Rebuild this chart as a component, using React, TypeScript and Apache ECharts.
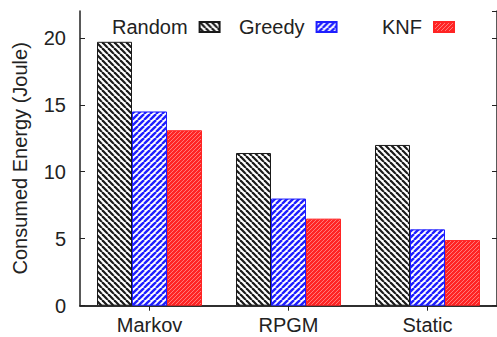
import React, { useEffect, useRef } from "react";
import * as echarts from "echarts";

const categories = ["Markov", "RPGM", "Static"];
const seriesNames = ["Random", "Greedy", "KNF"];
const randomValues = [19.7, 11.4, 12.0];
const greedyValues = [14.5, 8.0, 5.7];
const knfValues = [13.1, 6.5, 4.9];
const yTicks = [0, 5, 10, 15, 20];

const FONT = "Liberation Sans, Arial, Helvetica, sans-serif";
const TEXT = "#222";

function stripes(
  size: number,
  bg: string,
  fg: string,
  lw: number,
  dir: "back" | "fwd"
): any {
  const c = document.createElement("canvas");
  c.width = size;
  c.height = size;
  const ctx = c.getContext("2d")!;
  ctx.fillStyle = bg;
  ctx.fillRect(0, 0, size, size);
  ctx.strokeStyle = fg;
  ctx.lineWidth = lw;
  for (let k = -1; k <= 1; k++) {
    ctx.beginPath();
    if (dir === "back") {
      ctx.moveTo(k * size, 0);
      ctx.lineTo(k * size + size, size);
    } else {
      ctx.moveTo(k * size, size);
      ctx.lineTo(k * size + size, 0);
    }
    ctx.stroke();
  }
  return { image: c, repeat: "repeat" };
}

export default function App() {
  const ref = useRef<HTMLDivElement>(null);
  useEffect(() => {
    if (!ref.current) return;
    const chart = echarts.init(ref.current, undefined, { renderer: "svg" });
    const blackPat = stripes(6, "#ffffff", "#1a1a1a", 2.2, "back");
    const bluePat = stripes(6, "#ffffff", "#1e1eff", 2.4, "fwd");
    const redPat = stripes(4, "#ff2424", "#ff7a7a", 1, "fwd");
    const patterns = [blackPat, bluePat, redPat];
    const borders = ["#1a1a1a", "#1e1eff", "#ff2424"];
    const values = [randomValues, greedyValues, knfValues];
    const legendLefts = [112, 239, 382];

    const axisLine = { show: true, lineStyle: { color: "#222", width: 1.5 } };

    chart.setOption({
      animation: false,
      backgroundColor: "#fff",
      textStyle: { fontFamily: FONT },
      grid: { left: 80, top: 11, width: 419, height: 294.7 },
      legend: seriesNames.map((n, i) => ({
        data: [{ name: n, icon: "rect" }],
        left: legendLefts[i],
        top: 17,
        padding: 0,
        align: "right",
        itemWidth: 20,
        itemHeight: 10,
        selectedMode: false,
        textStyle: {
          fontFamily: FONT,
          fontSize: 20,
          color: TEXT,
          padding: [0, 7, 0, 0],
        },
      })),
      xAxis: [
        {
          type: "category",
          data: categories,
          position: "bottom",
          axisLine,
          axisTick: { show: true, inside: true, length: 5, alignWithLabel: true, lineStyle: { color: "#222" } },
          axisLabel: { fontFamily: FONT, fontSize: 20, color: TEXT, margin: 9 },
          splitLine: { show: false },
        },
        {
          type: "category",
          data: categories,
          position: "top",
          axisLine,
          axisTick: { show: true, inside: true, length: 5, alignWithLabel: true, lineStyle: { color: "#222" } },
          axisLabel: { show: false },
          splitLine: { show: false },
        },
      ],
      yAxis: [
        {
          type: "value",
          min: 0,
          max: 22,
          interval: 5,
          position: "left",
          name: "Consumed Energy (Joule)",
          nameLocation: "middle",
          nameGap: 50,
          nameTextStyle: { fontFamily: FONT, fontSize: 20, color: TEXT },
          axisLine,
          axisTick: { show: true, inside: true, length: 5, lineStyle: { color: "#222" } },
          axisLabel: {
            fontFamily: FONT,
            fontSize: 20,
            color: TEXT,
            margin: 14,
            showMaxLabel: false,
            formatter: (v: number) => (yTicks.includes(v) ? String(v) : ""),
          },
          splitLine: { show: false },
        },
        {
          type: "value",
          min: 0,
          max: 22,
          interval: 5,
          position: "right",
          axisLine,
          axisTick: { show: true, inside: true, length: 5, lineStyle: { color: "#222" } },
          axisLabel: { show: false },
          splitLine: { show: false },
        },
      ],
      series: seriesNames.map((n, i) => ({
        name: n,
        type: "bar",
        data: values[i],
        barWidth: 35,
        barGap: "0%",
        itemStyle: {
          color: patterns[i],
          borderColor: borders[i],
          borderWidth: 1,
        },
      })),
    });
    return () => chart.dispose();
  }, []);
  return (
    <div
      ref={ref}
      style={{ position: "fixed", left: 0, top: 0, width: 497, height: 337 }}
    />
  );
}
